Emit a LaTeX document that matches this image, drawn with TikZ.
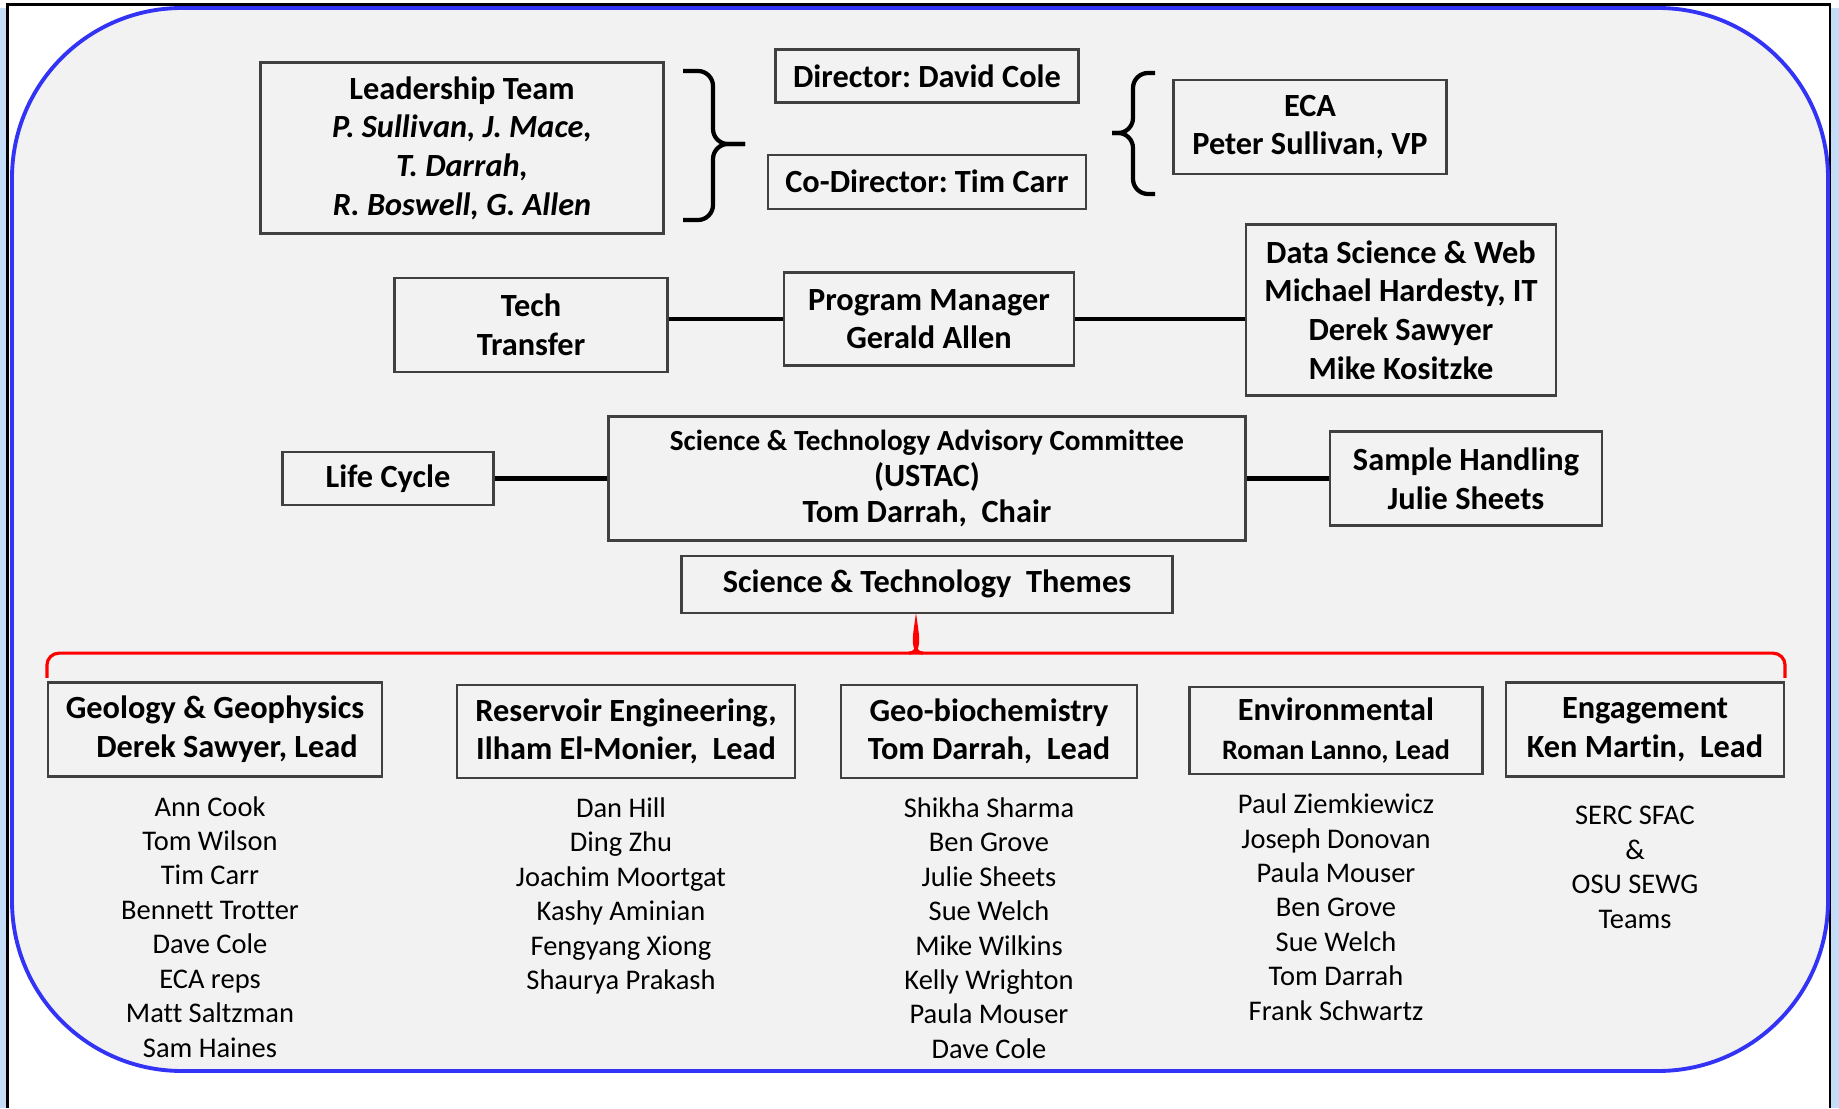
\documentclass[tikz,border=0pt]{standalone}
\usepackage{fontspec}
\setmainfont{Carlito}[Ligatures=NoCommon]
\usepackage{xcolor}
\definecolor{frameblue}{HTML}{3333F5}
\definecolor{panel}{HTML}{F2F2F2}
\definecolor{edgeblue}{HTML}{C6DDF7}
\definecolor{boxline}{HTML}{404040}
\definecolor{themered}{HTML}{FF0000}
\usepackage{tikz}
\usetikzlibrary{positioning,calc}
\frenchspacing

\begin{document}
\begin{tikzpicture}[
  B/.style={draw=boxline, line width=0.6pt, align=center, inner sep=2pt,
    font=\fontsize{9.2}{11}\selectfont\bfseries},
  names/.style={align=center, inner sep=0pt, font=\fontsize{8.1}{9.8}\selectfont},
  link/.style={line width=1.3pt, black},
  br/.style={line width=1.2pt, rounded corners=1.5mm, black},
  themebrace/.style={line width=0.9pt, themered}]

  \useasboundingbox (0,0) rectangle (18.39,11.08);
  \fill[white] (0,0) rectangle (18.39,11.08);
  \fill[edgeblue] (0,0) rectangle (0.07,11.0);
  \fill[edgeblue] (18.31,0) rectangle (18.39,11.0);
  \draw[black, line width=0.6pt] (0.075,0) -- (0.075,11.035) -- (18.30,11.035) -- (18.30,0);

  % Slide panel
  \draw[frameblue, fill=panel, line width=1.1pt, rounded corners=1.7cm]
    (0.12,0.37) rectangle (18.28,11.0);

  % Top: leadership and directors
  \node[B, minimum width=4.03cm, minimum height=1.71cm] (lead) at (4.62,9.60)
    {Leadership Team\\\textit{P. Sullivan, J. Mace,}\\\textit{T. Darrah,}\\\textit{R. Boswell, G. Allen}};
  \node[B, minimum width=3.03cm, minimum height=0.53cm] (dir) at (9.27,10.32) {Director: David Cole};
  \node[B, minimum width=3.18cm, minimum height=0.54cm, below=5mm of dir] (codir) {Co-Director: Tim Carr};
  \node[B, minimum width=2.73cm, minimum height=0.94cm] (eca) at (13.10,9.81) {ECA\\Peter Sullivan, VP};

  \draw[br] (6.83,10.37) -- (7.13,10.37) -- (7.13,9.64) -- (7.45,9.64);
  \draw[br] (7.45,9.64) -- (7.13,9.64) -- (7.13,8.88) -- (6.83,8.88);
  \draw[br] (11.55,10.35) -- (11.33,10.35) -- (11.33,9.75) -- (11.12,9.75);
  \draw[br] (11.12,9.75) -- (11.33,9.75) -- (11.33,9.14) -- (11.55,9.14);

  % Program manager row
  \node[B, minimum width=2.73cm, minimum height=0.94cm] (tt) at (5.31,7.83) {Tech\\Transfer};
  \node[B, minimum width=2.90cm, minimum height=0.93cm] (pm) at (9.29,7.89) {Program Manager\\Gerald Allen};
  \node[B, minimum width=3.10cm, minimum height=1.71cm] (ds) at (14.01,7.98)
    {Data Science \& Web\\Michael Hardesty, IT\\Derek Sawyer\\Mike Kositzke};
  \draw[link] (pm.west) -- (pm.west -| tt.east);
  \draw[link] (pm.east) -- (pm.east -| ds.west);

  % Advisory committee row
  \node[B, minimum width=6.37cm, minimum height=1.24cm, font=\fontsize{9.2}{10.3}\selectfont\bfseries] (ustac) at (9.27,6.295)
    {{\fontsize{8.3}{10}\selectfont Science \& Technology Advisory Committee}\\(USTAC)\\Tom Darrah,~ Chair};
  \node[B, minimum width=2.11cm, minimum height=0.53cm] (life) at (3.88,6.295) {Life Cycle};
  \node[B, minimum width=2.72cm, minimum height=0.94cm] (samp) at (14.66,6.295) {Sample Handling\\Julie Sheets};
  \node[B, minimum width=4.91cm, minimum height=0.575cm, below=1.3mm of ustac] (themes) {Science \& Technology~ Themes};
  \draw[link] (life) -- (ustac);
  \draw[link] (ustac) -- (samp);

  % Themes and their members
  \node[B, minimum width=3.34cm, minimum height=0.94cm] (geo) at (2.15,3.785)
    {Geology \& Geophysics\\\hspace*{0.24cm}Derek Sawyer, Lead};
  \node[B, minimum width=3.38cm, minimum height=0.93cm] (res) at (6.26,3.768)
    {Reservoir Engineering,\\Ilham El-Monier,~ Lead};
  \node[B, minimum width=2.96cm, minimum height=0.93cm] (gbio) at (9.89,3.768)
    {Geo-biochemistry\\Tom Darrah,~ Lead};
  \node[B, minimum width=2.93cm, minimum height=0.87cm] (env) at (13.36,3.774)
    {Environmental\\{\fontsize{8}{11}\selectfont Roman Lanno, Lead}};
  \node[B, minimum width=2.78cm, minimum height=0.94cm] (eng) at (16.45,3.785)
    {Engagement\\Ken Martin,~ Lead};

  \coordinate (tip) at ($(themes.south)+(-0.11,-0.10)$);
  \draw[themebrace, rounded corners=1.2mm] ($(geo.north west)+(0,0.035)$) |- ($(tip)+(0,-0.29)$)
    -| ($(eng.north east)+(0,0.035)$);
  \draw[themebrace] ($(tip)+(-0.07,-0.29)$) to[out=0,in=-82] (tip) to[out=-98,in=180] ($(tip)+(0.07,-0.29)$);

  \node[names, below=1.8mm of geo, xshift=-0.5mm] (geonames)
    {Ann Cook\\Tom Wilson\\Tim Carr\\Bennett Trotter\\Dave Cole\\ECA reps\\Matt Saltzman\\Sam Haines};
  \node[names, below=1.8mm of res, xshift=-0.5mm] (resnames)
    {Dan Hill\\Ding Zhu\\Joachim Moortgat\\Kashy Aminian\\Fengyang Xiong\\Shaurya Prakash};
  \node[names, below=1.8mm of gbio] (gbionames)
    {Shikha Sharma\\Ben Grove\\Julie Sheets\\Sue Welch\\Mike Wilkins\\Kelly Wrighton\\Paula Mouser\\Dave Cole};
  \node[names, below=1.8mm of env] (envnames)
    {Paul Ziemkiewicz\\Joseph Donovan\\Paula Mouser\\Ben Grove\\Sue Welch\\Tom Darrah\\Frank Schwartz};
  \node[names, below=2.8mm of eng, xshift=-1mm] (engnames)
    {SERC SFAC\\\&\\OSU SEWG\\Teams};
\end{tikzpicture}
\end{document}
